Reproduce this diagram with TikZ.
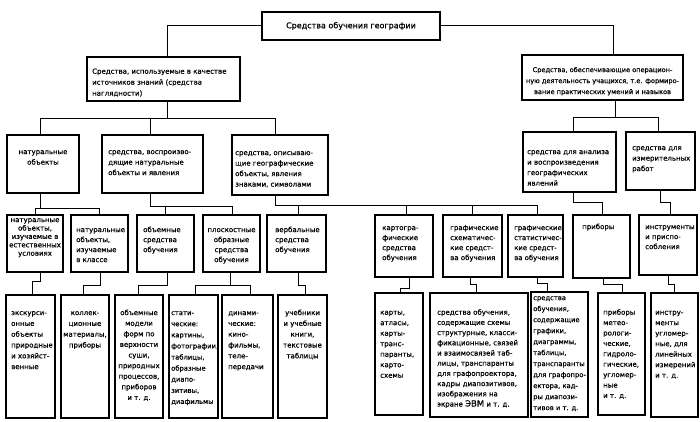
\documentclass[tikz,border=0pt]{standalone}
\usepackage{fontspec}
\setmainfont{DejaVu Sans}[FakeBold=0.6]
\usetikzlibrary{fit}
\newcommand{\fl}{\rule{0pt}{5.5pt}}
\newcommand{\fs}[2]{\fontsize{#1}{#2}\selectfont}
\tikzset{
  box/.style={draw, line width=1.4pt, inner sep=0pt},
  conn/.style={draw, line width=1pt},
  txt/.style={inner sep=0pt, align=left, anchor=north west},
  ctxt/.style={inner sep=0pt, align=center, anchor=north},
}
% box: name, x1, y1, x2, y2
\newcommand{\bx}[5]{\coordinate (#1a) at (#2,#3); \coordinate (#1b) at (#4,#5);
  \node[box, fit=(#1a)(#1b)] (#1) {};}
% jog connector: from, x1, ymid, x2, to
\newcommand{\jog}[5]{\path (#2,#3) coordinate (j#1a) (#4,#3) coordinate (j#1b);
  \draw[conn] (j#1a |- #1.south) -- (j#1a) -- (j#1b) -- (j#1b |- #5.north);}
\begin{document}
\begin{tikzpicture}[x=1pt,y=-1pt]
\fill[white] (0,0) rectangle (700,422);
\useasboundingbox (0,0) rectangle (700,422);

% ---------- boxes ----------
\bx{T}{262}{12}{440}{40}
\bx{A}{87}{57}{240}{101}
\bx{B}{522}{55}{683}{100}
\bx{A1}{7}{135}{79}{193}
\bx{A2}{102}{135}{203}{193}
\bx{A3}{232}{135}{328}{195}
\bx{B1}{523}{132}{616}{192}
\bx{B2}{626}{132}{695}{190}
\bx{C1}{7}{215}{63}{272}
\bx{C2}{71}{215}{128}{272}
\bx{C3}{137}{215}{194}{272}
\bx{C4}{203}{215}{260}{272}
\bx{C5}{267}{215}{326}{272}
\bx{D1}{375}{215}{433}{277}
\bx{D2}{443}{215}{502}{277}
\bx{D3}{508}{215}{563}{277}
\bx{D4}{573}{215}{630}{278}
\bx{D5}{639}{215}{697}{275}
\bx{E1}{6}{295}{55}{418}
\bx{E2}{61}{295}{109}{418}
\bx{E3}{115}{295}{163}{418}
\bx{E4}{169}{295}{218}{418}
\bx{E5}{222}{295}{273}{418}
\bx{E6}{278}{295}{327}{418}
\bx{F1}{375}{293}{423}{415}
\bx{F2}{430}{293}{528}{417}
\bx{F3}{531}{292}{588}{417}
\bx{F4}{598}{293}{645}{415}
\bx{F5}{651}{293}{698}{417}

% ---------- texts ----------
\node[inner sep=0pt, font=\fs{8}{10}] (Tt) at (T.center) {Средства обучения географии};
\node[txt, font=\fs{7}{11}] (At) at (92,68) {\fl Средства, используемые в качестве\\источников знаний (средства\\наглядности)};
\node[ctxt, font=\fs{6.6}{11}] (Bt) at (602.5,66.4) {\fl Средства, обеспечивающие операцион-\\ную деятельность учащихся, т.е. формиро-\\вание практических умений и навыков};
\node[ctxt, font=\fs{7}{10.5}] (A1t) at (43,148.4) {\fl натуральные\\объекты};
\node[txt, font=\fs{7}{10.5}] (A2t) at (108,148.4) {\fl средства, воспроизво-\\дящие натуральные\\объекты и явления};
\node[txt, font=\fs{7}{10.5}] (A3t) at (235,149.4) {\fl средства, описываю-\\щие географические\\объекты, явления\\знаками, символами};
\node[txt, font=\fs{7}{10.5}] (B1t) at (527,148.4) {\fl средства для анализа\\и воспроизведения\\географических\\явлений};
\node[txt, font=\fs{7}{10.5}] (B2t) at (632,144.4) {\fl средства для\\измерительных\\работ};

\node[ctxt, font=\fs{7}{8.4}] (C1t) at (35,216.4) {\fl натуральные\\объекты,\\изучаемые в\\естественных\\условиях};
\node[txt, font=\fs{7}{10}] (C2t) at (76,226.4) {\fl натуральные\\объекты,\\изучаемые\\в классе};
\node[txt, font=\fs{7}{10}] (C3t) at (143,226.4) {\fl объемные\\средства\\обучения};
\node[ctxt, font=\fs{7}{10}] (C4t) at (231.5,226.4) {\fl плоскостные\\образные\\средства\\обучения};
\node[txt, font=\fs{7}{10}] (C5t) at (275,226.4) {\fl вербальные\\средства\\обучения};
\node[txt, font=\fs{7}{10}] (D1t) at (382,224.4) {\fl картогра-\\фические\\средства\\обучения};
\node[txt, font=\fs{7}{10}] (D2t) at (450,224.4) {\fl графические\\схематичес-\\кие средст-\\ва обучения};
\node[txt, font=\fs{6.9}{10}] (D3t) at (514,224.4) {\fl графические\\статистичес-\\кие средст-\\ва обучения};
\node[txt, font=\fs{7}{10}] (D4t) at (582,223.4) {\fl приборы};
\node[txt, font=\fs{7}{10}] (D5t) at (645,223.4) {\fl инструменты\\и приспо-\\собления};

\node[txt, font=\fs{7}{10.8}] (E1t) at (11,309.4) {\fl экскурси-\\онные\\объекты\\природные\\и хозяйст-\\венные};
\node[ctxt, font=\fs{7}{10.8}] (E2t) at (85,309.4) {\fl коллек-\\ционные\\материалы,\\приборы};
\node[ctxt, font=\fs{7}{10.6}] (E3t) at (139,309.4) {\fl объемные\\модели\\форм по\\верхности\\суши,\\природных\\процессов,\\приборов\\и т. д.};
\node[txt, font=\fs{6.8}{11.1}] (E4t) at (171,309.4) {\fl стати-\\ческие:\\картины,\\фотографии,\\таблицы,\\образные\\диапо-\\зитивы,\\диафильмы};
\node[txt, font=\fs{7}{10.8}] (E5t) at (228,309.4) {\fl динами-\\ческие:\\кино-\\фильмы,\\теле-\\передачи};
\node[ctxt, font=\fs{7}{10.8}] (E6t) at (302.5,309.4) {\fl учебники\\и учебные\\книги,\\текстовые\\таблицы};

\node[txt, font=\fs{7}{10.5}] (F1t) at (380,309) {\fl карты,\\атласы,\\карты-\\транс-\\паранты,\\карто-\\схемы};
\node[txt, font=\fs{7}{10.2}] (F2t) at (437,309) {\fl средства обучения,\\содержащие схемы\\структурные, класси-\\фикационные, связей\\и взаимосвязей таб-\\лицы, транспаранты\\для графопроектора,\\кадры диапозитивов,\\изображения на\\экране {\fs{8.5}{10.2}ЭВМ} и т. д.};
\node[txt, font=\fs{6.8}{11}] (F3t) at (533,294.4) {\fl средства\\обучения,\\содержащие\\графики,\\диаграммы,\\таблицы,\\транспаранты\\для графопро-\\ектора, кад-\\ры диапози-\\тивов и т. д.};
\node[txt, font=\fs{7}{10.4}] (F4t) at (603,309) {\fl приборы\\метео-\\рологи-\\ческие,\\гидроло-\\гические,\\угломер-\\ные\\и т. д.};
\node[txt, font=\fs{7}{10.5}] (F5t) at (655,309) {\fl инстру-\\менты\\угломер-\\ные, для\\линейных\\измерений\\и т. д.};

% ---------- connectors ----------
\coordinate (xA) at (167,0);
\coordinate (xB) at (613,0);
\draw[conn] (T.west) -| (xA |- A.north);
\draw[conn] (T.east) -| (xB |- B.north);

% bus under A
\coordinate (yA) at (0,119);
\coordinate (xA1) at (40,0);
\coordinate (xA2) at (150,0);
\coordinate (xA3) at (275,0);
\draw[conn] (xA |- A.south) -- (xA |- yA);
\draw[conn] (xA1 |- A1.north) -- (xA1 |- yA) -- (xA3 |- yA) -- (xA3 |- A3.north);
\draw[conn] (xA2 |- yA) -- (xA2 |- A2.north);

% bus under B
\coordinate (yB) at (0,118);
\coordinate (xBs) at (615,0);
\coordinate (xB1) at (573,0);
\coordinate (xB2) at (658,0);
\draw[conn] (xBs |- B.south) -- (xBs |- yB);
\draw[conn] (xB1 |- B1.north) -- (xB1 |- yB) -- (xB2 |- yB) -- (xB2 |- B2.north);

% bus under A1
\coordinate (yA1) at (0,208);
\coordinate (xC1) at (35,0);
\coordinate (xC2) at (99,0);
\draw[conn] (xA1 |- A1.south) -- (xA1 |- yA1);
\draw[conn] (xC1 |- C1.north) -- (xC1 |- yA1) -- (xC2 |- yA1) -- (xC2 |- C2.north);

% bus under A2
\coordinate (yA2) at (0,206);
\coordinate (xC3) at (165,0);
\coordinate (xC4) at (232,0);
\draw[conn] (xA2 |- A2.south) -- (xA2 |- yA2) -- (xC4 |- yA2) -- (xC4 |- C4.north);
\draw[conn] (xC3 |- yA2) -- (xC3 |- C3.north);

% bus under A3
\coordinate (yA3) at (0,205);
\coordinate (xC5) at (298,0);
\coordinate (xD1) at (406,0);
\coordinate (xD2) at (472,0);
\coordinate (xD3) at (537,0);
\draw[conn] (xA3 |- A3.south) -- (xA3 |- yA3) -- (xD3 |- yA3) -- (xD3 |- D3.north);
\draw[conn] (xC5 |- yA3) -- (xC5 |- C5.north);
\draw[conn] (xD1 |- yA3) -- (xD1 |- D1.north);
\draw[conn] (xD2 |- yA3) -- (xD2 |- D2.north);

% B1, B2 to D4, D5
\jog{B1}{573}{202}{602}{D4}
\jog{B2}{660}{202}{670}{D5}

% level 4 to level 5
\jog{C1}{40}{281}{32}{E1}
\jog{C2}{100}{285}{83}{E2}
\jog{C3}{167}{285}{138}{E3}
\coordinate (yC4) at (0,285);
\coordinate (xE4) at (195,0);
\coordinate (xE5) at (250,0);
\coordinate (xC4b) at (230,0);
\draw[conn] (xC4b |- C4.south) -- (xC4b |- yC4);
\draw[conn] (xE4 |- E4.north) -- (xE4 |- yC4) -- (xE5 |- yC4) -- (xE5 |- E5.north);
\jog{C5}{298}{285}{305}{E6}
\jog{D1}{409}{288}{400}{F1}
\jog{D2}{470}{284}{476}{F2}
\jog{D3}{537}{283}{547}{F3}
\jog{D4}{603}{284}{622}{F4}
\jog{D5}{668}{284}{674}{F5}
\end{tikzpicture}
\end{document}
